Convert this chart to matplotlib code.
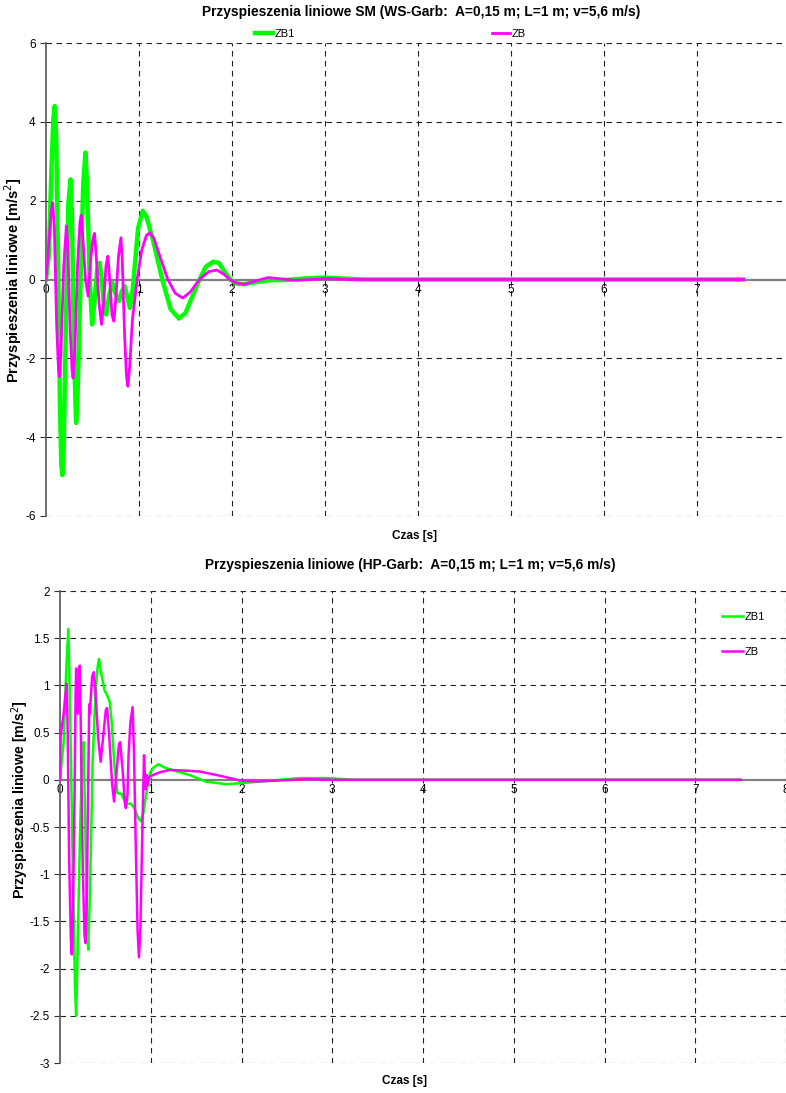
import numpy as np
import matplotlib.pyplot as plt
from matplotlib.lines import Line2D

plt.rcParams['font.family'] = ['Liberation Sans', 'DejaVu Sans']
plt.rcParams['axes.unicode_minus'] = False

# ---- top chart (WS-Garb) ----
t_zb1_top = [0.0, 0.03, 0.06, 0.08, 0.094, 0.11, 0.13, 0.15, 0.165, 0.176, 0.19, 0.215, 0.24, 0.263, 0.28,
             0.30, 0.324, 0.34, 0.37, 0.40, 0.424, 0.44, 0.47, 0.496, 0.52, 0.55, 0.576, 0.60, 0.625, 0.647,
             0.68, 0.712, 0.745, 0.784, 0.815, 0.845, 0.875, 0.903, 0.93, 0.96, 0.99, 1.04, 1.08, 1.15, 1.25,
             1.34, 1.43, 1.50, 1.57, 1.65, 1.72, 1.80, 1.86, 1.92, 1.98, 2.05, 2.12, 2.25, 2.41, 2.6, 2.8,
             3.0, 3.15, 3.4, 4.0, 5.0, 6.0, 7.0, 7.5]
a_zb1_top = [0.0, 0.6, 2.9, 4.1, 4.4, 3.6, 0.5, -3.2, -4.7, -4.96, -4.3, -1.0, 1.9, 2.54, 1.6,
             -1.8, -3.64, -2.9, -0.2, 2.4, 3.22, 2.5, 0.0, -1.14, -0.6, 0.25, 0.42, 0.0, -0.7, -0.89,
             -0.4, -0.08, -0.35, -0.55, -0.3, -0.17, -0.45, -0.72, -0.3, 0.5, 1.3, 1.74, 1.6, 1.0, 0.0,
             -0.75, -0.99, -0.85, -0.45, 0.0, 0.33, 0.45, 0.42, 0.2, 0.0, -0.1, -0.12, -0.07, -0.02, -0.01, 0.03,
             0.05, 0.03, 0.0, 0.0, 0.0, 0.0, 0.0, 0.0]

t_zb_top = [0.0, 0.03, 0.055, 0.072, 0.09, 0.115, 0.135, 0.144, 0.16, 0.19, 0.219, 0.235, 0.26, 0.28, 0.291,
            0.31, 0.34, 0.365, 0.378, 0.395, 0.425, 0.453, 0.48, 0.505, 0.522, 0.54, 0.57, 0.597, 0.62, 0.645,
            0.665, 0.685, 0.71, 0.73, 0.75, 0.78, 0.806, 0.82, 0.845, 0.865, 0.881, 0.90, 0.93, 0.98, 1.03,
            1.08, 1.117, 1.16, 1.23, 1.31, 1.39, 1.47, 1.55, 1.65, 1.75, 1.84, 1.92, 1.975, 2.05, 2.14, 2.25,
            2.39, 2.55, 2.69, 2.85, 3.0, 3.2, 4.0, 7.5]
a_zb_top = [0.0, 0.9, 1.7, 1.95, 1.3, -1.2, -2.3, -2.46, -1.9, 0.3, 1.36, 0.8, -1.3, -2.3, -2.5,
            -1.8, 0.4, 1.45, 1.63, 1.1, 0.0, -0.42, 0.5, 1.05, 1.17, 0.6, -0.6, -1.14, -0.6, 0.35,
            0.59, 0.0, -0.9, -1.06, -0.5, 0.6, 1.06, 0.5, -1.4, -2.45, -2.71, -2.2, -1.0, 0.0, 0.75,
            1.12, 1.19, 1.05, 0.55, 0.0, -0.35, -0.47, -0.32, 0.0, 0.2, 0.24, 0.12, 0.0, -0.09, -0.12, -0.04,
            0.05, 0.01, -0.02, 0.0, 0.025, 0.0, 0.0, 0.0]

# ---- bottom chart (HP-Garb) ----
t_zb1_bot = [0.0, 0.04, 0.07, 0.092, 0.11, 0.14, 0.165, 0.178, 0.19, 0.22, 0.245, 0.26, 0.275, 0.295, 0.311,
             0.33, 0.36, 0.39, 0.415, 0.43, 0.45, 0.49, 0.517, 0.548, 0.57, 0.60, 0.633, 0.678, 0.70, 0.733,
             0.78, 0.82, 0.86, 0.89, 0.92, 0.95, 0.99, 1.03, 1.085, 1.15, 1.25, 1.43, 1.61, 1.83, 2.0,
             2.35, 2.64, 2.94, 3.23, 4.0, 7.5]
a_zb1_bot = [0.0, 0.4, 1.2, 1.6, 0.8, -0.9, -2.2, -2.5, -2.0, -0.6, 0.3, 0.4, -0.3, -1.5, -1.8,
             -1.2, 0.2, 0.9, 1.2, 1.28, 1.15, 0.95, 0.9, 0.83, 0.6, 0.15, -0.14, -0.15, -0.2, -0.26,
             -0.25, -0.3, -0.4, -0.44, -0.35, -0.15, 0.07, 0.13, 0.165, 0.13, 0.1, 0.05, -0.02, -0.046, -0.035,
             -0.007, 0.018, 0.018, 0.0, 0.0, 0.0]

t_zb_bot = [0.0, 0.007, 0.04, 0.065, 0.074, 0.085, 0.10, 0.12, 0.13, 0.14, 0.16, 0.172, 0.178, 0.188, 0.196,
            0.205, 0.218, 0.23, 0.25, 0.27, 0.281, 0.295, 0.31, 0.322, 0.33, 0.338, 0.355, 0.374, 0.39, 0.42,
            0.448, 0.475, 0.505, 0.519, 0.54, 0.575, 0.596, 0.62, 0.65, 0.663, 0.69, 0.715, 0.726, 0.744, 0.755,
            0.775, 0.80, 0.815, 0.835, 0.855, 0.87, 0.885, 0.90, 0.915, 0.926, 0.935, 0.944, 0.955, 0.965, 0.98,
            1.0, 1.1, 1.21, 1.54, 1.8, 1.98, 2.17, 2.45, 2.72, 3.0, 7.5]
a_zb_bot = [0.0, 0.46, 0.7, 0.95, 1.02, 0.5, -0.8, -1.7, -1.85, -1.6, -0.2, 0.9, 1.18, 0.75, 0.7,
            1.0, 1.21, 0.5, -0.9, -1.65, -1.73, -1.3, -0.1, 0.8, 0.7, 0.85, 1.1, 1.14, 0.95, 0.45,
            0.19, 0.45, 0.74, 0.76, 0.5, -0.05, -0.23, 0.05, 0.38, 0.40, 0.1, -0.25, -0.3, -0.16, 0.25,
            0.6, 0.77, 0.3, -0.7, -1.6, -1.88, -1.6, -0.9, -0.2, 0.26, 0.05, -0.1, 0.05, -0.05, 0.02,
            0.04, 0.08, 0.105, 0.088, 0.035, -0.007, -0.018, -0.005, 0.007, 0.0, 0.0]

green = '#00ff00'
magenta = '#ff00ff'

fig = plt.figure(figsize=(7.86, 10.93), dpi=100)


def style_axes(ax, yticks, xticks, xlabels, ylims):
    ax.set_xlim(0, 8)
    ax.set_ylim(*ylims)
    for s in ['top', 'right']:
        ax.spines[s].set_visible(False)
    ax.spines['bottom'].set_position(('data', 0))
    ax.spines['bottom'].set_color('#808080')
    ax.spines['bottom'].set_linewidth(1.6)
    ax.spines['left'].set_color('#555555')
    ax.spines['left'].set_linewidth(1.2)
    ax.set_yticks(yticks)
    ax.set_xticks(xticks)
    ax.set_xticklabels(xlabels)
    ax.tick_params(axis='x', length=0, pad=3, labelsize=8.5)
    ax.tick_params(axis='y', length=4, direction='out', labelsize=8.5, color='#333333')
    for y in yticks:
        if y != 0:
            ax.axhline(y, color='#222222', lw=0.8, ls=(0, (5, 4)), zorder=0)
    for x in xticks[1:]:
        ax.axvline(x, color='#222222', lw=0.8, ls=(0, (5, 4)), zorder=0)


# top chart
ax1 = fig.add_axes([46 / 786, 1 - 516 / 1093, 744 / 786, 473 / 1093])
style_axes(ax1, [-6, -4, -2, 0, 2, 4, 6], list(range(9)), [str(i) for i in range(8)] + [''], (-6, 6))
ax1.plot(t_zb1_top, a_zb1_top, color=green, lw=3.2, label='ZB1', zorder=3)
ax1.plot(t_zb_top, a_zb_top, color=magenta, lw=2.0, label='ZB', zorder=4)
ax1.legend(loc='center', bbox_to_anchor=(0.463, 1.02), ncol=2, frameon=False,
           fontsize=8, handlelength=1.6, handletextpad=0.2, columnspacing=17.7, borderpad=0)

fig.text(421 / 786, 1 - 12 / 1093, 'Przyspieszenia liniowe SM (WS-Garb:  A=0,15 m; L=1 m; v=5,6 m/s)',
         ha='center', va='center', fontsize=9.9, fontweight='bold')
fig.text(415 / 786, 1 - 536 / 1093, 'Czas [s]', ha='center', va='center', fontsize=8.5, fontweight='bold')
fig.text(13 / 786, 1 - 280 / 1093, 'Przyspieszenia liniowe [m/s$^2$]', rotation=90, ha='center',
         va='center', fontsize=10.5, fontweight='bold')

# bottom chart
ax2 = fig.add_axes([60 / 786, 1 - 1063 / 1093, 726 / 786, 472 / 1093])
yt2 = [-3, -2.5, -2, -1.5, -1, -0.5, 0, 0.5, 1, 1.5, 2]
style_axes(ax2, yt2, list(range(9)), [str(i) for i in range(9)], (-3, 2))
ax2.set_yticklabels(['-3', '-2.5', '-2', '-1.5', '-1', '-0.5', '0', '0.5', '1', '1.5', '2'])
ax2.plot(t_zb1_bot, a_zb1_bot, color=green, lw=1.8, label='ZB1', zorder=3)
ax2.plot(t_zb_bot, a_zb_bot, color=magenta, lw=1.8, label='ZB', zorder=4)
ax2.legend(loc='upper left', bbox_to_anchor=(656 / 726, 1 - 15 / 472), frameon=False,
           fontsize=8, handlelength=1.9, handletextpad=0.2, labelspacing=2.3, borderpad=0)

fig.text(410 / 786, 1 - 565 / 1093, 'Przyspieszenia liniowe (HP-Garb:  A=0,15 m; L=1 m; v=5,6 m/s)',
         ha='center', va='center', fontsize=9.9, fontweight='bold')
fig.text(405 / 786, 1 - 1081 / 1093, 'Czas [s]', ha='center', va='center', fontsize=8.5, fontweight='bold')
fig.text(20 / 786, 1 - 800 / 1093, 'Przyspieszenia liniowe [m/s$^2$]', rotation=90, ha='center',
         va='center', fontsize=10.2, fontweight='bold')

fig.savefig('out.png', dpi=100)
